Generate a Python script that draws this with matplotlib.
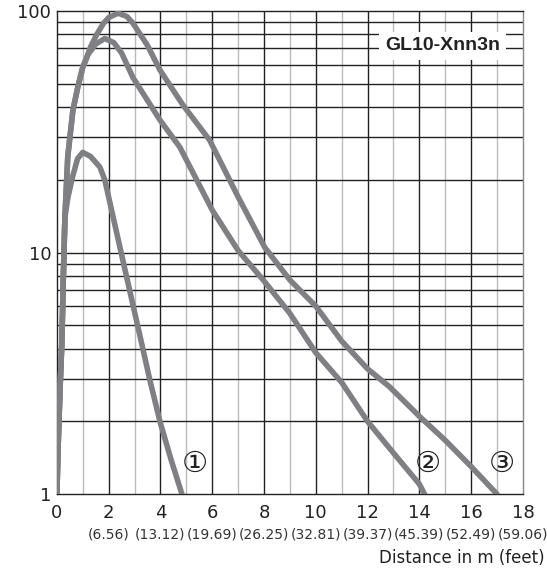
import matplotlib.pyplot as plt
from matplotlib.ticker import FixedLocator, NullFormatter

plt.rcParams['font.family'] = ['DejaVu Sans']

# shared steep rise of all three curves
x_rise = [0.0, 0.05, 0.12, 0.19, 0.25, 0.31]
y_rise = [1.0, 1.6, 2.7, 4.2, 8.0, 14.0]

# curve 1
x1 = x_rise + [0.43, 0.6, 0.8, 1.0, 1.3, 1.66, 1.85, 2.3, 2.72, 3.32, 3.58, 3.98, 4.4, 4.83]
y1 = y_rise + [17.0, 20.5, 24.5, 26.0, 25.0, 22.6, 20.0, 12.2, 7.7, 4.0, 3.0, 2.0, 1.4, 1.0]

# curve 2
x2 = x_rise + [0.42, 0.62, 0.8, 1.0, 1.2, 1.5, 1.85, 2.2, 2.5, 2.94, 3.98, 4.75, 6.0, 7.0, 7.97, 9.0, 10.0, 11.0, 12.0, 13.0, 14.0, 14.2]
y2 = y_rise + [25.0, 38.9, 48.0, 58.6, 66.0, 73.0, 77.0, 74.0, 67.0, 53.0, 35.4, 27.3, 15.0, 10.2, 7.7, 5.6, 3.85, 2.9, 2.0, 1.48, 1.1, 1.0]

# curve 3
x3 = x_rise + [0.42, 0.62, 0.8, 1.0, 1.1, 1.3, 1.54, 1.8, 2.0, 2.36, 2.7, 2.94, 3.5, 3.98, 4.87, 5.9, 7.0, 8.03, 9.0, 10.0, 11.0, 12.0, 12.85, 14.0, 15.0, 16.0, 17.0]
y3 = y_rise + [25.0, 38.9, 48.0, 58.6, 62.0, 71.0, 80.0, 89.0, 94.0, 98.0, 95.0, 89.0, 72.0, 57.0, 40.8, 29.2, 17.0, 10.5, 7.7, 6.0, 4.3, 3.3, 2.78, 2.1, 1.67, 1.3, 1.0]

x_ticks = [0, 2, 4, 6, 8, 10, 12, 14, 16, 18]
feet_labels = ['(6.56)', '(13.12)', '(19.69)', '(26.25)', '(32.81)', '(39.37)', '(45.39)', '(52.49)', '(59.06)']
curve_tags = ['①', '②', '③']
tag_pos = [(5.33, 1.34), (14.33, 1.34), (17.2, 1.34)]

fig = plt.figure(figsize=(5.47, 5.82), dpi=100)
ax = fig.add_axes([0.104, 0.151, 0.852, 0.830])
ax.set_yscale('log')
ax.set_xlim(0, 18)
ax.set_ylim(1, 100)

# grid
for v in range(1, 18):
    col = '#222222' if v % 2 == 0 else '#bbbbbb'
    ax.axvline(v, color=col, lw=1.0, zorder=1)
for dec in [1, 10]:
    for m in range(2, 10):
        ax.axhline(dec * m, color='#222222', lw=1.0, zorder=1)
ax.axhline(10, color='#222222', lw=1.0, zorder=1)

gray = '#7f8083'
for xs, ys in [(x1, y1), (x2, y2), (x3, y3)]:
    ax.plot(xs, ys, color=gray, lw=4.0, solid_capstyle='round', solid_joinstyle='round', zorder=3)

for t, (tx, ty) in zip(curve_tags, tag_pos):
    ax.text(tx, ty, t, fontsize=21, ha='center', va='center', color='#222222', zorder=4)

ax.text(0.828, 0.928, 'GL10-Xnn3n', transform=ax.transAxes, fontsize=14, fontweight='bold',
        family=['Liberation Sans Narrow', 'Liberation Sans', 'DejaVu Sans'],
        ha='center', va='center', color='#222222', zorder=4,
        bbox=dict(boxstyle='square,pad=0.3', facecolor='white', edgecolor='none'))

ax.yaxis.set_major_locator(FixedLocator([1, 10, 100]))
ax.yaxis.set_minor_formatter(NullFormatter())
ax.set_yticklabels(['1', '10', '100'])
ax.set_xticks(x_ticks)
ax.set_xticklabels([str(v) for v in x_ticks])
ax.tick_params(axis='both', which='both', length=0, labelsize=13, colors='#222222')
ax.tick_params(axis='x', pad=7)
ax.tick_params(axis='y', pad=4)

for v, lab in zip(x_ticks[1:], feet_labels):
    ax.text(v, -0.07, lab, transform=ax.get_xaxis_transform(), fontsize=10,
            ha='center', va='top', color='#333333')

fig.text(0.996, 0.026, 'Distance in m (feet)', fontsize=12, ha='right', va='bottom', color='#222222')

for s in ['left', 'bottom', 'top']:
    ax.spines[s].set_color('#222222')
ax.spines['right'].set_color('#888888')
for s in ax.spines.values():
    s.set_linewidth(1.0)

fig.savefig('out.png', dpi=100)
